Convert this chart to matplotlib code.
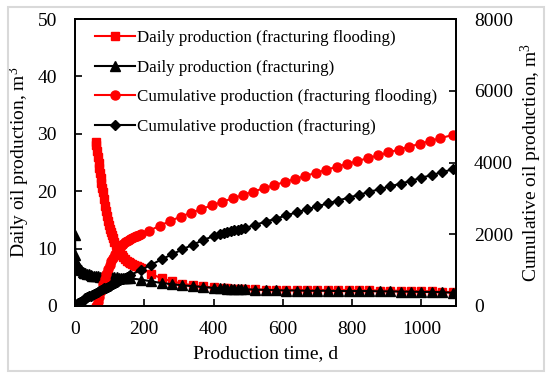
import matplotlib
matplotlib.use("Agg")
import matplotlib.pyplot as plt
from matplotlib.patches import Rectangle

plt.rcParams['font.family'] = ['Liberation Serif', 'DejaVu Serif']
plt.rcParams['mathtext.fontset'] = 'custom'
plt.rcParams['mathtext.rm'] = 'Liberation Serif'
plt.rcParams['mathtext.it'] = 'Liberation Serif:italic'

# daily production, fracturing flooding (m3/d)
t_daily_ff = [60, 62, 64, 66, 68, 70, 72, 74, 76, 78, 80, 83, 86, 89, 92, 95, 98,
              101, 104, 107, 110, 114, 118, 122, 126, 130, 135, 140, 145, 150,
              155, 160, 165, 170, 175, 180, 185, 190,
              220, 250, 280, 310, 340, 370, 400, 430, 440, 450, 460, 470, 480,
              490, 520, 550, 580, 610, 640, 670, 700, 730, 760, 790, 820, 850,
              880, 910, 940, 970, 1000, 1030, 1060, 1092]
q_daily_ff = [28.6, 28.0, 27.0, 26.0, 25.0, 24.0, 23.2, 22.3, 21.5, 20.6, 19.8,
              18.6, 17.5, 16.5, 15.6, 14.8, 14.1, 13.5, 12.9, 12.4, 11.9, 11.2,
              10.6, 10.1, 9.6, 9.2, 8.8, 8.5, 8.2, 7.9, 7.7, 7.5, 7.3, 7.2, 7.0,
              6.9, 6.8, 6.7,
              5.6, 4.8, 4.3, 3.9, 3.6, 3.4, 3.25, 3.1, 3.05, 3.0, 3.0, 2.95,
              2.95, 2.9, 2.9, 2.85, 2.85, 2.85, 2.8, 2.8, 2.8, 2.8, 2.8, 2.8,
              2.75, 2.75, 2.7, 2.7, 2.65, 2.6, 2.6, 2.55, 2.5, 2.4]

# daily production, fracturing (m3/d)
t_daily_f = [0, 1, 3, 5, 8, 11, 14, 18, 22, 26, 30, 35, 40, 45, 50, 55, 60, 66,
             72, 78, 84, 90, 96, 102, 108, 114, 120, 126, 132, 138, 144, 150, 160,
             190, 220, 250, 280, 310, 340, 370, 400, 420, 430, 440, 450, 460,
             470, 480, 490, 520, 550, 580, 610, 640, 670, 700, 730, 760, 790,
             820, 850, 880, 910, 940, 970, 1000, 1030, 1060, 1092]
q_daily_f = [12.3, 8.8, 7.6, 7.2, 6.9, 6.6, 6.4, 6.2, 6.0, 5.8, 5.7, 5.6, 5.5,
             5.4, 5.3, 5.25, 5.2, 5.15, 5.1, 5.05, 5.0, 5.0, 5.0, 5.0, 5.0, 5.0,
             5.0, 4.95, 4.95, 4.9, 4.9, 4.85, 4.8,
             4.6, 4.3, 4.0, 3.8, 3.6, 3.45, 3.3, 3.15, 3.1, 3.05, 3.0, 3.0,
             2.95, 2.95, 2.9, 2.9, 2.85, 2.8, 2.75, 2.7, 2.7, 2.65, 2.65, 2.65,
             2.6, 2.6, 2.6, 2.6, 2.55, 2.55, 2.5, 2.5, 2.45, 2.45, 2.4, 2.3]

# cumulative production, fracturing flooding (m3)
t_cum_ff = [62, 66, 70, 75, 81, 86, 90, 95, 100, 105, 110, 115, 120, 125, 130,
            135, 140, 145, 150, 155, 160, 165, 170, 175, 180, 185, 190,
            215, 245, 275, 305, 335, 365, 395, 425, 455, 485, 515, 545, 575,
            605, 635, 665, 695, 725, 755, 785, 815, 845, 875, 905, 935, 965,
            995, 1025, 1055, 1092]
v_cum_ff = [0, 120, 250, 420, 600, 760, 900, 1030, 1150, 1260, 1350, 1440, 1520,
            1590, 1650, 1700, 1740, 1775, 1810, 1840, 1870, 1895, 1920, 1940,
            1960, 1980, 2000,
            2100, 2240, 2370, 2490, 2600, 2705, 2805, 2905, 3000, 3095, 3190,
            3280, 3370, 3455, 3540, 3625, 3710, 3795, 3880, 3960, 4040, 4120,
            4200, 4280, 4360, 4440, 4520, 4600, 4680, 4770]

# cumulative production, fracturing (m3)
t_cum_f = [0, 3, 6, 10, 15, 20, 25, 30, 35, 40, 45, 50, 55, 60, 65, 70, 75, 80,
           85, 90, 95, 100, 105, 110, 115, 120, 125, 130, 135, 140, 145, 150,
           155, 160,
           190, 220, 250, 280, 310, 340, 370, 400, 420, 430, 440, 450, 460,
           470, 480, 490, 520, 550, 580, 610, 640, 670, 700, 730, 760, 790,
           820, 850, 880, 910, 940, 970, 1000, 1030, 1060, 1092]
v_cum_f = [0, 30, 55, 85, 120, 150, 180, 210, 240, 265, 290, 315, 340, 365, 390,
           415, 440, 465, 490, 515, 540, 565, 590, 615, 640, 665, 690, 715, 740,
           765, 790, 815, 840, 865,
           1000, 1150, 1300, 1440, 1575, 1710, 1835, 1950, 2015, 2040, 2065,
           2085, 2105, 2125, 2145, 2170, 2260, 2350, 2435, 2525, 2610, 2695,
           2780, 2860, 2940, 3020, 3100, 3180, 3260, 3335, 3410, 3490, 3575,
           3650, 3730, 3815]

labels = ['Daily production (fracturing flooding)',
          'Daily production (fracturing)',
          'Cumulative production (fracturing flooding)',
          'Cumulative production (fracturing)']

fig = plt.figure(figsize=(5.5, 3.78), dpi=100)
fig.patches.append(Rectangle((8 / 550, 1 - 371 / 378), 536 / 550, 364 / 378,
                             transform=fig.transFigure, fill=False,
                             edgecolor='#d9d9d9', linewidth=1.5))
ax1 = fig.add_axes([75 / 550, 1 - 306 / 378, 381 / 550, 287 / 378])
ax2 = ax1.twinx()

l1, = ax1.plot(t_daily_ff, q_daily_ff, color='red', marker='s', ms=5.2,
               lw=1.5, label=labels[0])
l2, = ax1.plot(t_daily_f, q_daily_f, color='black', marker='^', ms=6.5,
               lw=1.5, label=labels[1])
l3, = ax2.plot(t_cum_ff, v_cum_ff, color='red', marker='o', ms=6.5,
               lw=1.5, label=labels[2])
l4, = ax2.plot(t_cum_f, v_cum_f, color='black', marker='D', ms=5,
               lw=1.5, label=labels[3])

ax1.set_xlim(0, 1100)
ax1.set_ylim(0, 50)
ax2.set_ylim(0, 8000)
ax1.set_xticks([0, 200, 400, 600, 800, 1000])
ax1.set_yticks([0, 10, 20, 30, 40, 50])
ax2.set_yticks([0, 2000, 4000, 6000, 8000])

for ax in (ax1, ax2):
    for s in ax.spines.values():
        s.set_linewidth(1.3)
ax1.tick_params(axis='x', direction='in', length=5, width=1.2, pad=11,
                labelsize=14, top=False)
ax1.tick_params(axis='y', direction='in', length=5, width=1.2, pad=13,
                labelsize=14)
ax2.tick_params(axis='y', direction='in', length=5, width=1.2, pad=13,
                labelsize=14)

ax1.set_xlabel('Production time, d', fontsize=14)
ax1.set_ylabel('Daily oil production, m$^3$', fontsize=14)
ax2.set_ylabel('Cumulative oil production, m$^3$', fontsize=14)
ax1.xaxis.set_label_coords(0.5, -0.135)
ax1.yaxis.set_label_coords(-0.113, 0.5)
ax2.yaxis.set_label_coords(1.165, 0.5)

ax2.legend(handles=[l1, l2, l3, l4], loc='upper left',
           bbox_to_anchor=(0.052, 0.962), frameon=False, fontsize=12.2,
           handlelength=2.35, handletextpad=0.15, labelspacing=0.81,
           borderpad=0, borderaxespad=0)

fig.savefig('out.png', dpi=100)
